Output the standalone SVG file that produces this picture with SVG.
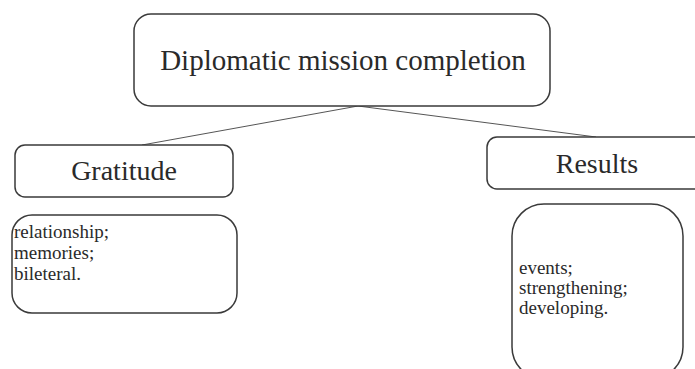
<svg xmlns="http://www.w3.org/2000/svg" width="695" height="369" viewBox="0 0 695 369">
<style>
.box{fill:#fff;stroke:#3a3a3a;stroke-width:1.5}
.conn{stroke:#555;stroke-width:1;fill:none}
.t{font-family:"Liberation Serif","Times New Roman",serif;fill:#2a2a2a}
.big{font-size:29px}
.mid{font-size:28px}
.sm{font-size:19px}
</style>
<rect width="695" height="369" fill="#fff"/>
<g id="connectors">
<line class="conn" x1="358" y1="106" x2="142" y2="145"/>
<line class="conn" x1="358" y1="106" x2="596" y2="137"/>
</g>
<g id="root">
<rect class="box" x="134" y="14" width="416" height="92" rx="17"/>
<text class="t big" x="343" y="70" text-anchor="middle">Diplomatic mission completion</text>
</g>
<g id="gratitude">
<rect class="box" x="15" y="145" width="218" height="52" rx="10"/>
<text class="t mid" x="124" y="180" text-anchor="middle">Gratitude</text>
</g>
<g id="gratitude-list">
<rect class="box" x="12" y="215" width="225" height="98" rx="20"/>
<text class="t sm" x="14" y="238">relationship;</text>
<text class="t sm" x="14" y="259">memories;</text>
<text class="t sm" x="14" y="280">bileteral.</text>
</g>
<g id="results">
<rect class="box" x="487" y="137" width="230" height="52" rx="10"/>
<text class="t mid" x="597" y="173" text-anchor="middle">Results</text>
</g>
<g id="results-list">
<rect class="box" x="512" y="204" width="171" height="175" rx="32"/>
<text class="t sm" x="519" y="274">events;</text>
<text class="t sm" x="519" y="294">strengthening;</text>
<text class="t sm" x="519" y="314">developing.</text>
</g>
</svg>
